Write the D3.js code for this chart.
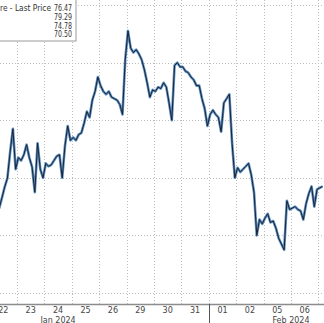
<!DOCTYPE html>
<html>
<head>
<meta charset="utf-8">
<script src="https://cdn.jsdelivr.net/npm/d3@7"></script>
<style>
  html, body { margin: 0; padding: 0; background: #fff; }
  svg { display: block; font-family: "DejaVu Sans", Verdana, sans-serif; }
</style>
</head>
<body>
<div id="chart"></div>
<script>
// Trading days shown on the x axis (weekend 27/28 and 03/04 skipped)
const DAYS = ["22", "23", "24", "25", "26", "29", "30", "31", "01", "02", "05", "06", "07"];
const MONTH_LABELS = ["Jan 2024", "Feb 2024"];
const MONTH_AT = [2.5, 11];      // in trading-day units
const MONTH_BREAK = 8;           // Feb 01 starts here
const Y_TICKS = [70, 72, 74, 76, 78, 80];
const SLOTS_PER_DAY = 10;

const LEGEND_TITLE = "re - Last Price";
const LEGEND_VALUES = ["76.47", "79.29", "74.78", "70.50"];

// Intraday closes, 10 per trading day
const PRICES = [
  73.1, 72.9, 73.0, 72.95, 73.3, 73.68, 73.99, 74.9, 75.7, 74.3,     // 22
  74.7, 74.6, 74.8, 75.15, 74.7, 74.38, 73.5, 75.2, 74.3, 74.0,      // 23
  74.5, 74.4, 74.45, 74.6, 74.75, 74.8, 74.0, 75.1, 75.8, 75.3,      // 24
  75.4, 75.3, 75.5, 75.56, 75.9, 76.3, 76.1, 76.7, 77.0, 77.5,       // 25
  77.2, 77.0, 76.9, 77.0, 76.8, 76.75, 76.7, 76.55, 76.2, 78.1,      // 26
  79.1, 78.5, 78.35, 78.45, 78.3, 78.1, 77.75, 77.3, 76.8, 77.05,    // 29
  77.0, 77.15, 77.1, 77.3, 77.15, 76.6, 76.0, 77.9, 78.0, 77.85,     // 30
  77.85, 77.7, 77.65, 77.5, 77.4, 77.2, 77.2, 76.75, 76.4, 75.8,     // 31
  76.2, 76.35, 76.2, 76.1, 75.6, 76.6, 76.75, 76.9, 75.2, 74.0,      // 01
  74.35, 74.2, 74.3, 74.4, 74.5, 74.1, 73.5, 72.0, 72.55, 72.4,      // 02
  72.6, 72.75, 72.45, 72.5, 72.25, 71.9, 71.7, 71.5, 73.2, 72.9,     // 05
  72.95, 73.0, 72.9, 72.85, 72.55, 73.1, 73.45, 73.7, 73.0, 73.6,    // 06
  73.65, 73.7                                                        // 07
];

document.addEventListener("DOMContentLoaded", () => {
  drawChart();
});

function drawChart() {
  const width = 324, height = 323;
  const axisY = 304;

  const svg = d3.select("#chart").append("svg")
    .attr("width", width)
    .attr("height", height);

  // x in trading-day units; the chart is cropped, day 22 starts off screen
  const x = d3.scaleLinear().domain([0, DAYS.length]).range([-10.4, -10.4 + 27.4 * DAYS.length]);
  const y = d3.scaleLinear().domain([70, 80]).range([293, 5]);

  // Grid
  const grid = svg.append("g").attr("stroke", "#bdbdbd").attr("stroke-dasharray", "1,2");
  grid.selectAll("line.h").data(Y_TICKS).enter().append("line")
    .attr("class", "h")
    .attr("x1", 0).attr("x2", width)
    .attr("y1", d => Math.round(y(d)) + 0.5).attr("y2", d => Math.round(y(d)) + 0.5);
  grid.selectAll("line.v").data(d3.range(1, DAYS.length)).enter().append("line")
    .attr("class", "v")
    .attr("y1", 0).attr("y2", axisY)
    .attr("x1", d => Math.round(x(d)) + 0.5).attr("x2", d => Math.round(x(d)) + 0.5);

  const series = PRICES.map((p, i) => ({ t: (i + 0.5) / SLOTS_PER_DAY, close: p }));
  const line = d3.line().x(d => x(d.t)).y(d => y(d.close));

  // blue halo under a dark core, like the thin bars in the original
  svg.append("path")
    .datum(series)
    .attr("fill", "none")
    .attr("stroke", "#5b8fc4")
    .attr("stroke-width", 2.6)
    .attr("stroke-linejoin", "round")
    .attr("d", line);
  svg.append("path")
    .datum(series)
    .attr("fill", "none")
    .attr("stroke", "#1b2230")
    .attr("stroke-width", 1)
    .attr("stroke-linejoin", "round")
    .attr("d", line);

  // X axis
  svg.append("line")
    .attr("x1", 0).attr("x2", width)
    .attr("y1", axisY + 0.5).attr("y2", axisY + 0.5)
    .attr("stroke", "#8c8c8c").attr("stroke-width", 1.5);
  svg.append("line")
    .attr("x1", Math.round(x(MONTH_BREAK)) + 0.5).attr("x2", Math.round(x(MONTH_BREAK)) + 0.5)
    .attr("y1", axisY).attr("y2", height)
    .attr("stroke", "#555");

  svg.append("g").selectAll("text")
    .data(DAYS.map((d, i) => ({ label: d, i })).filter(d => x(d.i + 0.5) < width - 6))
    .enter().append("text")
    .attr("x", d => x(d.i + 0.5))
    .attr("y", axisY + 9)
    .attr("text-anchor", "middle")
    .attr("font-size", 8)
    .attr("fill", "#444")
    .text(d => d.label);

  svg.append("g").selectAll("text").data(MONTH_LABELS).enter().append("text")
    .attr("x", (d, i) => x(MONTH_AT[i]))
    .attr("y", axisY + 18.5)
    .attr("text-anchor", "middle")
    .attr("font-size", 8)
    .attr("fill", "#444")
    .text(d => d);

  // Legend box (cropped on the left)
  const legend = svg.append("g");
  legend.append("rect")
    .attr("x", -2).attr("y", -2)
    .attr("width", 78).attr("height", 43)
    .attr("fill", "#fff")
    .attr("stroke", "#9a9a9a");
  legend.append("text")
    .attr("x", 0).attr("y", 11)
    .attr("font-size", 8)
    .attr("textLength", 51)
    .attr("lengthAdjust", "spacingAndGlyphs")
    .attr("fill", "#333")
    .text(LEGEND_TITLE);
  legend.selectAll("text.val").data(LEGEND_VALUES).enter().append("text")
    .attr("class", "val")
    .attr("x", 72)
    .attr("y", (d, i) => 11 + i * 8.8)
    .attr("text-anchor", "end")
    .attr("font-size", 8)
    .attr("textLength", 18)
    .attr("lengthAdjust", "spacingAndGlyphs")
    .attr("fill", "#333")
    .text(d => d);
}
</script>
</body>
</html>
